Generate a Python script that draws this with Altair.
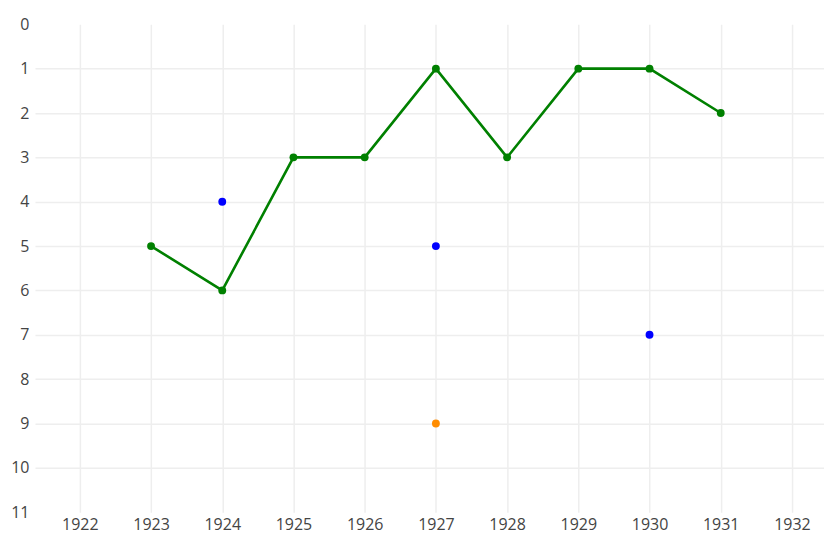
import altair as alt
import pandas as pd

green_years = [1923, 1924, 1925, 1926, 1927, 1928, 1929, 1930, 1931]
green_vals = [5, 6, 3, 3, 1, 3, 1, 1, 2]
blue_years = [1924, 1927, 1930]
blue_vals = [4, 5, 7]
orange_years = [1927]
orange_vals = [9]

green = pd.DataFrame({"year": green_years, "val": green_vals, "series": "green"})
others = pd.DataFrame({
    "year": blue_years + orange_years,
    "val": blue_vals + orange_vals,
    "series": ["blue"] * len(blue_years) + ["orange"] * len(orange_years),
})

grid_cond = {"condition": {"test": "datum.value === 0 || datum.value === 11", "value": 0}, "value": 1}

x = alt.X("year:Q", scale=alt.Scale(domain=[1921.37, 1932.45], nice=False, zero=False),
          axis=alt.Axis(values=list(range(1922, 1933)), format="d", title=None, domainOpacity=0,
                        ticks=False, labelPadding=4, gridColor="#eeeeee", gridWidth=1.5,
                        labelFont="Open Sans", labelFontSize=16, labelColor="#444444"))
y = alt.Y("val:Q", scale=alt.Scale(domain=[0, 11], reverse=True, nice=False, zero=False),
          axis=alt.Axis(values=list(range(0, 12)), title=None, domainOpacity=0, ticks=False,
                        labelPadding=6, gridColor="#eeeeee", gridWidth=1.5, gridOpacity=grid_cond,
                        labelFont="Open Sans", labelFontSize=16, labelColor="#444444"))

line = alt.Chart(green).mark_line(color="green", strokeWidth=2.6).encode(x=x, y=y)
gpts = alt.Chart(green).mark_circle(color="green", size=62, opacity=1).encode(x=x, y=y)
opts = alt.Chart(others).mark_circle(size=62, opacity=1).encode(
    x=x, y=y,
    color=alt.Color("series:N", scale=alt.Scale(domain=["blue", "orange"], range=["blue", "darkorange"]), legend=None),
)

chart = (line + gpts + opts).properties(
    width=790, height=488.5,
    padding={"left": 2, "top": 8, "right": 0, "bottom": 5},
).configure_view(stroke=None)

chart.save("out.html", embed_options={"renderer": "svg", "actions": False})
